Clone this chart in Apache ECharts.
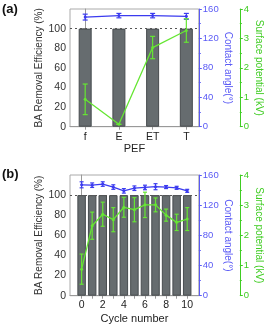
<!DOCTYPE html>
<html><head><meta charset="utf-8">
<script src="https://cdn.jsdelivr.net/npm/echarts@6/dist/echarts.min.js"></script>
<style>html,body{margin:0;padding:0;background:#fff}#c{width:278px;height:328px}</style>
</head><body><div id="c"></div>
<script>
// Panel (a): PEF variants
const pefCats = ['f', 'E', 'ET', 'T'];
const pefEff = [100, 100, 100, 100];
const pefAngle = [149, 151, 151, 150];
const pefAngleErr = [4, 3, 3, 4];
const pefPot = [0.93, 0.08, 2.69, 3.27];
const pefPotErr = [0.52, 0, 0.38, 0.4];
// Panel (b): cycles
const cycles = [0, 1, 2, 3, 4, 5, 6, 7, 8, 9, 10];
const cycEff = [100, 100, 100, 100, 100, 100, 100, 100, 100, 100, 100];
const cycAngle = [147, 146.5, 148, 144, 139, 142.5, 143.5, 144.5, 144, 143, 139];
const cycAngleErr = [4, 3, 3, 3, 3, 3, 3, 4, 2, 2, 2];
const cycPot = [0.88, 2.32, 2.7, 2.52, 2.93, 2.85, 3.01, 3.01, 2.67, 2.43, 2.54];
const cycPotErr = [0.5, 0.45, 0.4, 0.4, 0.33, 0.4, 0.42, 0.23, 0.2, 0.27, 0.38];
const effTicks = [0, 20, 40, 60, 80, 100];

const FONT = 'Liberation Sans';
const BLUE = '#3b3bef', BLUEAX = '#5a5af5', GREEN = '#66e633', GREENAX = '#3fcc22';
const BARC = '#666c6f', BARB = '#474c4f', GRAY = '#999';

const chart = echarts.init(document.getElementById('c'), null, {renderer: 'canvas'});

function errSeries(xi, yi, xs, vals, errs, color, capW) {
  return {
    type: 'custom', xAxisIndex: xi, yAxisIndex: yi, z: 5, silent: true,
    data: xs.map((x, i) => [x, vals[i] - errs[i], vals[i] + errs[i]]),
    encode: {x: 0, y: [1, 2]},
    renderItem: (params, api) => {
      const x = api.value(0);
      const a = api.coord([x, api.value(1)]);
      const b = api.coord([x, api.value(2)]);
      const st = {stroke: color, lineWidth: 1.2};
      return {type: 'group', children: [
        {type: 'line', shape: {x1: a[0], y1: a[1], x2: b[0], y2: b[1]}, style: st},
        {type: 'line', shape: {x1: a[0] - capW, y1: a[1], x2: a[0] + capW, y2: a[1]}, style: st},
        {type: 'line', shape: {x1: b[0] - capW, y1: b[1], x2: b[0] + capW, y2: b[1]}, style: st}
      ]};
    }
  };
}

function yAxes(gi) {
  return [
    {gridIndex: gi, type: 'value', min: 0, max: 120, interval: 20, position: 'left',
     name: 'BA Removal Efficiency (%)', nameLocation: 'middle', nameGap: 24, nameRotate: 90,
     nameTextStyle: {fontFamily: FONT, fontSize: 10, color: '#333'},
     axisLine: {show: true, lineStyle: {color: GRAY}},
     axisTick: {show: true, length: 3, lineStyle: {color: GRAY}, customValues: effTicks},
     axisLabel: {fontFamily: FONT, fontSize: 10.5, color: '#333', margin: 4, customValues: effTicks},
     splitLine: {show: false}},
    {gridIndex: gi, type: 'value', min: 0, max: 160, interval: 40, position: 'right',
     name: 'Contact angle(°)', nameLocation: 'middle', nameGap: 22, nameRotate: -90,
     nameTextStyle: {fontFamily: FONT, fontSize: 10, color: BLUEAX},
     axisLine: {show: true, lineStyle: {color: BLUEAX}},
     axisTick: {show: true, length: 3, lineStyle: {color: BLUEAX}},
     minorTick: {show: true, splitNumber: 2, length: 2, lineStyle: {color: BLUEAX}},
     axisLabel: {fontFamily: FONT, fontSize: 9.5, color: BLUEAX, margin: 4},
     splitLine: {show: false}},
    {gridIndex: gi, type: 'value', min: 0, max: 4, interval: 1, position: 'right', offset: 41,
     name: 'Surface potential (kV)', nameLocation: 'middle', nameGap: 14, nameRotate: -90,
     nameTextStyle: {fontFamily: FONT, fontSize: 10, color: GREENAX},
     axisLine: {show: true, lineStyle: {color: GREENAX}},
     axisTick: {show: true, length: 3, lineStyle: {color: GREENAX}},
     minorTick: {show: true, splitNumber: 2, length: 2, lineStyle: {color: GREENAX}},
     axisLabel: {fontFamily: FONT, fontSize: 9.5, color: GREENAX, margin: 4},
     splitLine: {show: false}}
  ];
}

const pefX = pefCats.map((c, i) => i);
const evenCycles = cycles.filter(c => c % 2 === 0);

const option = {
  animation: false,
  backgroundColor: '#fff',
  graphic: [
    {type: 'text', left: 2, top: 3, style: {text: '(a)', font: 'bold 13px ' + FONT, fill: '#111'}},
    {type: 'text', left: 2, top: 168, style: {text: '(b)', font: 'bold 13px ' + FONT, fill: '#111'}}
  ],
  grid: [
    {left: 70, top: 9, width: 140, height: 117.7, show: true, borderColor: '#aaa', borderWidth: 1, backgroundColor: '#fff'},
    {left: 70, top: 175, width: 140, height: 120.7, show: true, borderColor: '#aaa', borderWidth: 1, backgroundColor: '#fff'}
  ],
  xAxis: [
    {gridIndex: 0, type: 'value', min: -0.45, max: 3.37, position: 'bottom',
     name: 'PEF', nameLocation: 'middle', nameGap: 16,
     nameTextStyle: {fontFamily: FONT, fontSize: 11, color: '#222'},
     axisLine: {show: true, onZero: false, lineStyle: {color: GRAY}},
     axisTick: {show: true, length: 3, lineStyle: {color: GRAY}, customValues: pefX},
     axisLabel: {fontFamily: FONT, fontSize: 10.5, color: '#222', margin: 5, customValues: pefX,
                 formatter: v => pefCats[Math.round(v)] || ''},
     splitLine: {show: false}},
    {gridIndex: 1, type: 'value', min: -1.1, max: 11.1, position: 'bottom',
     name: 'Cycle number', nameLocation: 'middle', nameGap: 18,
     nameTextStyle: {fontFamily: FONT, fontSize: 11, color: '#222'},
     axisLine: {show: true, onZero: false, lineStyle: {color: GRAY}},
     axisTick: {show: true, length: 3, lineStyle: {color: GRAY}, customValues: cycles},
     axisLabel: {fontFamily: FONT, fontSize: 10.5, color: '#222', margin: 4, customValues: evenCycles},
     splitLine: {show: false}}
  ],
  yAxis: [...yAxes(0), ...yAxes(1)],
  series: [
    {type: 'bar', xAxisIndex: 0, yAxisIndex: 0, barWidth: 13, z: 2,
     itemStyle: {color: BARC, borderColor: BARB, borderWidth: 1},
     data: pefX.map((x, i) => [x, pefEff[i]]),
     markLine: {silent: true, symbol: 'none', label: {show: false},
       lineStyle: {color: '#555', type: [2, 3], width: 1}, data: [{yAxis: 100}]}},
    errSeries(0, 1, pefX, pefAngle, pefAngleErr, BLUE, 2.5),
    {type: 'line', xAxisIndex: 0, yAxisIndex: 1, z: 6, data: pefX.map((x, i) => [x, pefAngle[i]]),
     lineStyle: {color: BLUE, width: 1.2}, itemStyle: {color: BLUE}, symbol: 'circle', symbolSize: 3},
    errSeries(0, 2, pefX, pefPot, pefPotErr, GREEN, 2.5),
    {type: 'line', xAxisIndex: 0, yAxisIndex: 2, z: 6, data: pefX.map((x, i) => [x, pefPot[i]]),
     lineStyle: {color: GREEN, width: 1.3}, itemStyle: {color: GREEN}, symbol: 'circle', symbolSize: 3},

    {type: 'bar', xAxisIndex: 1, yAxisIndex: 3, barWidth: 8.5, z: 2,
     itemStyle: {color: BARC, borderColor: BARB, borderWidth: 1},
     data: cycles.map((x, i) => [x, cycEff[i]]),
     markLine: {silent: true, symbol: 'none', label: {show: false},
       lineStyle: {color: '#555', type: [2, 3], width: 1}, data: [{yAxis: 100}]}},
    errSeries(1, 4, cycles, cycAngle, cycAngleErr, BLUE, 2),
    {type: 'line', xAxisIndex: 1, yAxisIndex: 4, z: 6, data: cycles.map((x, i) => [x, cycAngle[i]]),
     lineStyle: {color: BLUE, width: 1.2}, itemStyle: {color: BLUE}, symbol: 'circle', symbolSize: 3},
    errSeries(1, 5, cycles, cycPot, cycPotErr, GREEN, 2),
    {type: 'line', xAxisIndex: 1, yAxisIndex: 5, z: 6, data: cycles.map((x, i) => [x, cycPot[i]]),
     lineStyle: {color: GREEN, width: 1.3}, itemStyle: {color: GREEN}, symbol: 'circle', symbolSize: 3}
  ]
};
chart.setOption(option);
</script>
</body></html>
